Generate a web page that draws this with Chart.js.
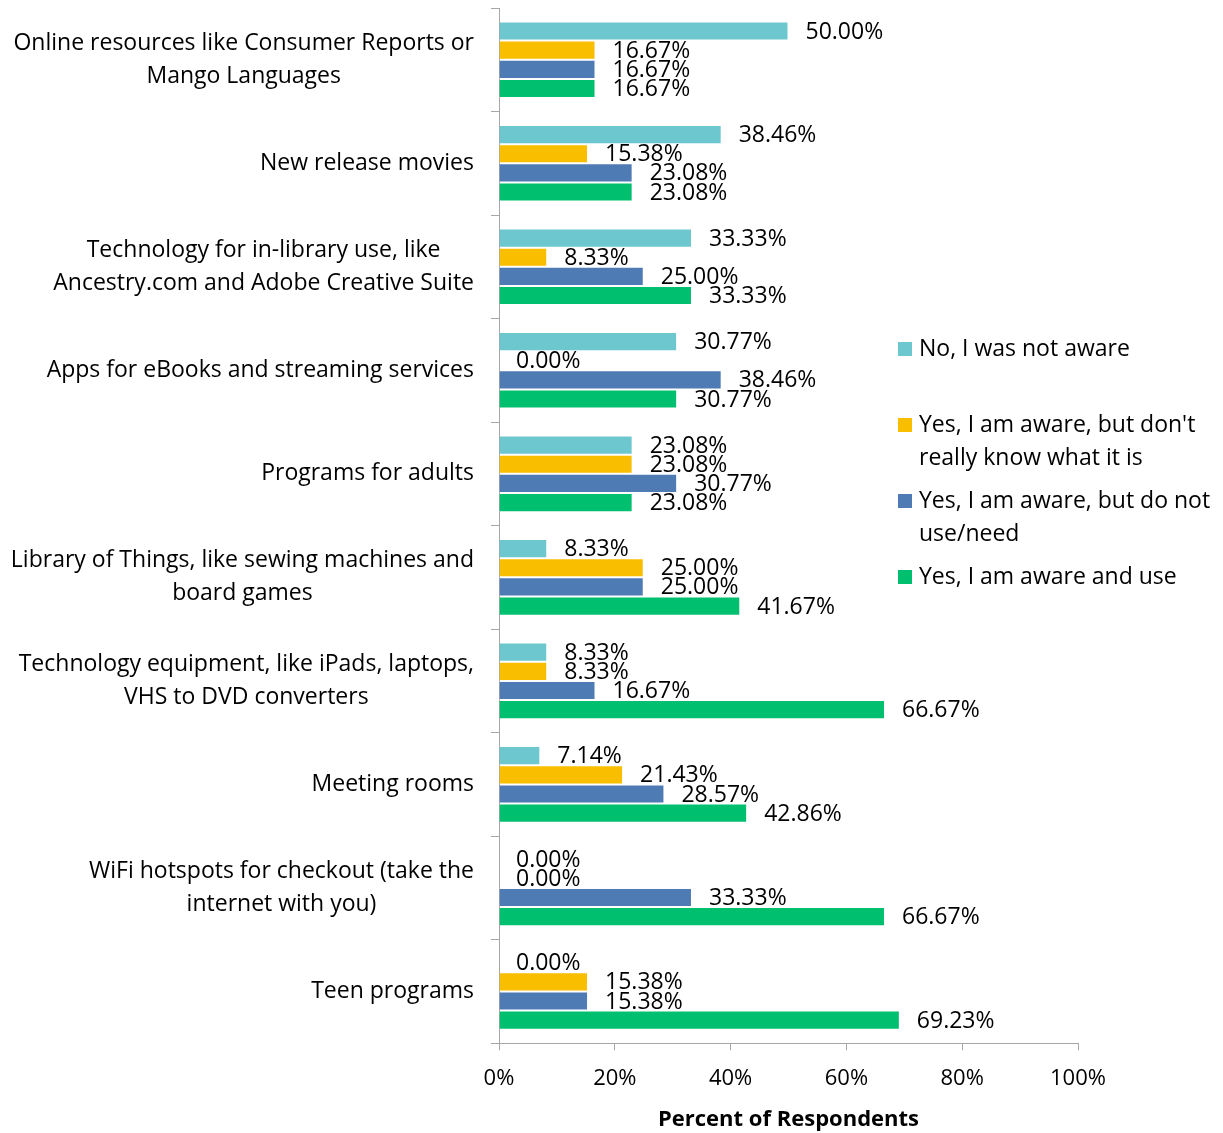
<!DOCTYPE html>
<html>
<head>
<meta charset="utf-8">
<script src="https://cdn.jsdelivr.net/npm/chart.js@4"></script>
<style>
  body { margin: 0; background: #fff; }
  #wrap { width: 1223px; height: 1133px; }
</style>
</head>
<body>
<div id="wrap"><canvas id="myChart" width="1223" height="1133"></canvas></div>
<script>
// categories (top to bottom), multi-line labels
const categories = [
  ['Online resources like Consumer Reports or', 'Mango Languages'],
  ['New release movies'],
  ['Technology for in-library use, like', 'Ancestry.com and Adobe Creative Suite'],
  ['Apps for eBooks and streaming services'],
  ['Programs for adults'],
  ['Library of Things, like sewing machines and', 'board games'],
  ['Technology equipment, like iPads, laptops,', 'VHS to DVD converters'],
  ['Meeting rooms'],
  ['WiFi hotspots for checkout (take the', 'internet with you)'],
  ['Teen programs'],
];

const seriesNames = [
  'No, I was not aware',
  "Yes, I am aware, but don't really know what it is",
  'Yes, I am aware, but do not use/need',
  'Yes, I am aware and use',
];

// values in percent
const notAware     = [50.00, 38.46, 33.33, 30.77, 23.08, 8.33, 8.33, 7.14, 0.00, 0.00];
const dontKnow     = [16.67, 15.38, 8.33, 0.00, 23.08, 25.00, 8.33, 21.43, 0.00, 15.38];
const dontUse      = [16.67, 23.08, 25.00, 38.46, 30.77, 25.00, 16.67, 28.57, 33.33, 15.38];
const awareAndUse  = [16.67, 23.08, 33.33, 30.77, 23.08, 41.67, 66.67, 42.86, 66.67, 69.23];

const xTicks = [0, 20, 40, 60, 80, 100];

const COLORS = ['rgb(108,200,206)', 'rgb(250,190,0)', 'rgb(79,123,181)', 'rgb(0,191,110)'];
const FONT = '"Open Sans"';
const AXIS_GRAY = '#a6a6a6';

// 値ラベル
const valueLabels = {
  id: 'valueLabels',
  afterDatasetsDraw(chart) {
    const c = chart.ctx;
    c.save();
    c.font = '23px ' + FONT;
    c.fillStyle = '#000';
    c.textAlign = 'left';
    c.textBaseline = 'middle';
    chart.data.datasets.forEach((ds, i) => {
      chart.getDatasetMeta(i).data.forEach((el, j) => {
        c.fillText(ds.data[j].toFixed(2) + '%', el.x + 17, el.y + 1);
      });
    });
    c.restore();
  },
};

// カテゴリラベル（行ごとに中央揃え）
const categoryLabels = {
  id: 'categoryLabels',
  afterDraw(chart) {
    const c = chart.ctx;
    const y = chart.scales.y;
    c.save();
    c.font = '23px ' + FONT;
    c.fillStyle = '#000';
    c.textAlign = 'center';
    c.textBaseline = 'middle';
    const lh = 33;
    const right = 474;
    categories.forEach((lines, i) => {
      const cy = y.getPixelForTick(i);
      const w = Math.max(...lines.map(l => c.measureText(l).width));
      const cx = right - w / 2;
      lines.forEach((l, k) => {
        c.fillText(l, cx, cy + (k - (lines.length - 1) / 2) * lh);
      });
    });
    c.restore();
  },
};

// 凡例
const sideLegend = {
  id: 'sideLegend',
  afterDraw(chart) {
    const c = chart.ctx;
    c.save();
    c.font = '23px ' + FONT;
    c.fillStyle = '#000';
    c.textBaseline = 'middle';
    const items = [
      { lines: ['No, I was not aware'], y: 349 },
      { lines: ["Yes, I am aware, but don't", 'really know what it is'], y: 425 },
      { lines: ['Yes, I am aware, but do not', 'use/need'], y: 501 },
      { lines: ['Yes, I am aware and use'], y: 577 },
    ];
    items.forEach((it, i) => {
      c.fillStyle = COLORS[i];
      c.fillRect(898, it.y - 7, 14, 14);
      c.fillStyle = '#000';
      it.lines.forEach((l, k) => c.fillText(l, 919, it.y + k * 33));
    });
    c.restore();
  },
};

const ctx = document.getElementById('myChart').getContext('2d');
const myChart = new Chart(ctx, {
  type: 'bar',
  data: {
    labels: categories.map(l => l.join(' ')),
    datasets: [notAware, dontKnow, dontUse, awareAndUse].map((d, i) => ({
      label: seriesNames[i],
      data: d,
      backgroundColor: COLORS[i],
      borderColor: 'rgba(255,255,255,0.6)',
      borderWidth: 1,
      categoryPercentage: 0.74,
      barPercentage: 1,
    })),
  },
  options: {
    indexAxis: 'y',
    responsive: false,
    animation: false,
    layout: { padding: { top: 8, right: 145, bottom: 0, left: 0 } },
    plugins: {
      legend: { display: false },
      tooltip: { enabled: false },
    },
    scales: {
      y: {
        ticks: { display: false },
        grid: { drawOnChartArea: false, drawTicks: true, tickLength: 8, color: AXIS_GRAY, offset: true },
        border: { color: AXIS_GRAY, width: 1 },
        afterFit(s) { s.width = 499; },
      },
      x: {
        min: 0,
        max: 100,
        afterBuildTicks(s) { s.ticks = xTicks.map(v => ({ value: v })); },
        ticks: {
          callback: v => v + '%',
          color: '#000',
          font: { family: FONT, size: 22 },
          padding: 15,
          maxRotation: 0,
        },
        grid: { drawOnChartArea: false, drawTicks: true, tickLength: 7, color: AXIS_GRAY },
        border: { color: AXIS_GRAY, width: 1 },
        title: {
          display: true,
          text: 'Percent of Respondents',
          color: '#000',
          font: { family: FONT, size: 22, weight: 'bold' },
          padding: { top: 0, bottom: 0 },
        },
      },
    },
  },
  plugins: [valueLabels, categoryLabels, sideLegend],
});
</script>
</body>
</html>
